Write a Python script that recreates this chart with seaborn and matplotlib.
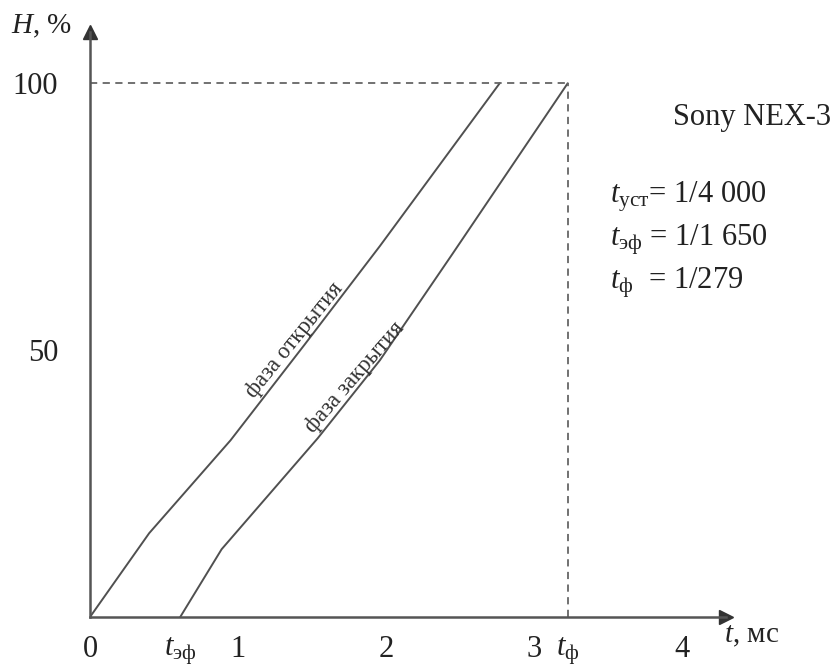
import matplotlib
matplotlib.use("Agg")
import matplotlib.pyplot as plt
import numpy as np
import pandas as pd
import seaborn as sns

# curve points: t in ms, H in %
t_open = [0.0, 0.40, 0.95, 1.45, 1.96, 2.77]
h_open = [0.0, 15.7, 33.1, 51.0, 69.5, 100.0]
t_close = [0.61, 0.89, 1.54, 1.96, 2.45, 3.23]
h_close = [0.0, 12.7, 33.5, 48.1, 68.0, 100.0]

t_eff = 0.61
t_full = 3.23
x_ticks = [0, t_eff, 1, 2, 3, t_full, 4]
x_labels = ['0', r'$t_{\mathrm{эф}}$', '1', '2', '3', r'$t_{\mathrm{ф}}$', '4']
y_ticks = [50, 100]
y_labels = ['50', '100']

camera = 'Sony NEX-3'
info_lines = [r'$t_{\mathrm{уст}}$= 1/4 000', r'$t_{\mathrm{эф}}$ = 1/1 650', r'$t_{\mathrm{ф}}$  = 1/279']

sns.set_style('white')
plt.rcParams['font.family'] = ['Liberation Serif', 'DejaVu Serif']
plt.rcParams['mathtext.fontset'] = 'custom'
plt.rcParams['mathtext.rm'] = 'Liberation Serif'
plt.rcParams['mathtext.it'] = 'Liberation Serif:italic'

df = pd.concat([
    pd.DataFrame({'t': t_open, 'H': h_open, 'phase': 'open'}),
    pd.DataFrame({'t': t_close, 'H': h_close, 'phase': 'close'}),
])

fig = plt.figure(figsize=(8.35, 6.66), dpi=100)
ax = fig.add_axes([90 / 835, 49 / 666, 636 / 835, 585 / 666])

line_col = '#505050'
sns.lineplot(data=df, x='t', y='H', hue='phase', palette=[line_col, line_col],
             legend=False, linewidth=1.4, ax=ax, sort=False)

ax.set_xlim(0, 4.3)
ax.set_ylim(0, 109.6)

# dashed frame
ax.plot([0, t_full], [100, 100], ls=(0, (4, 3)), color='#666666', lw=1.3)
ax.plot([t_full, t_full], [0, 100], ls=(0, (4, 3)), color='#666666', lw=1.3)

for s in ['top', 'right']:
    ax.spines[s].set_visible(False)
for s in ['left', 'bottom']:
    ax.spines[s].set_color('#555555')
    ax.spines[s].set_linewidth(1.8)

# arrow heads
ax.plot(1, 0, marker='>', color='#333333', markersize=10, transform=ax.transAxes, clip_on=False)
ax.plot(0, 1, marker='^', color='#333333', markersize=10, transform=ax.transAxes, clip_on=False)

ax.set_xticks(x_ticks)
ax.set_xticklabels(x_labels)
ax.set_yticks(y_ticks)
ax.set_yticklabels(y_labels)
ax.tick_params(axis='x', direction='inout', length=18, width=1.3, color='#444444',
               labelsize=22, pad=4, labelcolor='#222222')
ax.tick_params(axis='y', direction='inout', length=18, width=1.3, color='#444444',
               labelsize=22, pad=14, labelcolor='#222222')
ax.xaxis.get_major_ticks()[0].tick1line.set_visible(False)
ax.set_xlabel('')
ax.set_ylabel('')

ax.text(4.47, -3.6, r'$t$, мс', fontsize=21, ha='center', va='center', clip_on=False, color='#222222')
fig.text(42 / 835, 1 - 26 / 666, r'$H$, %', fontsize=21, ha='center', va='center', color='#222222')

ax.text(1.38, 51.8, 'фаза открытия', rotation=51, fontsize=16.5, ha='center', va='center',
        rotation_mode='anchor', color='#333333')
ax.text(1.79, 44.8, 'фаза закрытия', rotation=49, fontsize=16.5, ha='center', va='center',
        rotation_mode='anchor', color='#333333')

fig.text(673 / 835, 1 - 118 / 666, camera, fontsize=22, ha='left', va='center', color='#222222')
for i, txt in enumerate(info_lines):
    fig.text(610 / 835, 1 - (197 + 43 * i) / 666, txt, fontsize=22, ha='left', va='center',
             color='#222222')

fig.savefig('out.png', dpi=100)
